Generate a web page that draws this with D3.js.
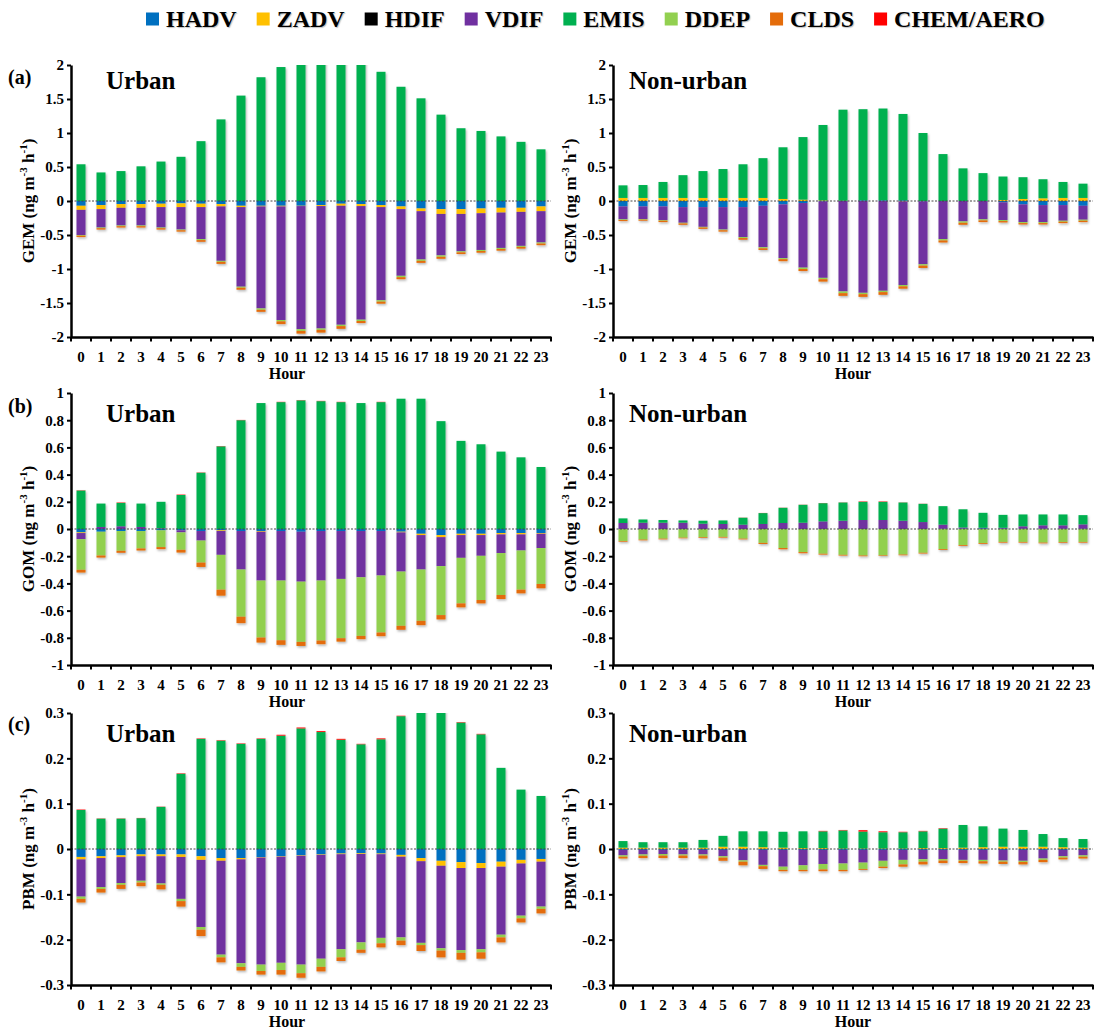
<!DOCTYPE html>
<html>
<head>
<meta charset="utf-8">
<script src="https://cdn.jsdelivr.net/npm/d3@7"></script>
<style>
  body { margin: 0; background: #fff; }
  svg text { font-family: "Liberation Serif", "Times New Roman", serif; font-weight: bold; fill: #000; }
</style>
</head>
<body>
<svg id="chart" width="1099" height="1032"></svg>
<script>
// categories and series
const hours = [0,1,2,3,4,5,6,7,8,9,10,11,12,13,14,15,16,17,18,19,20,21,22,23];
const seriesNames = ["HADV","ZADV","HDIF","VDIF","EMIS","DDEP","CLDS","CHEM/AERO"];
const seriesColors = ["#0070C0","#FFC000","#000000","#7030A0","#00B050","#92D050","#E46C0A","#FF0000"];

// y tick labels
const gemTicks = [-2,-1.5,-1,-0.5,0,0.5,1,1.5,2];
const gomTicks = [-1,-0.8,-0.6,-0.4,-0.2,0,0.2,0.4,0.6,0.8,1];
const pbmTicks = [-0.3,-0.2,-0.1,0,0.1,0.2,0.3];

// horizontal diffusion is nil everywhere
const hdifZero = [0,0,0,0,0,0,0,0,0,0,0,0,0,0,0,0,0,0,0,0,0,0,0,0];

// (a) GEM urban
const gemUrbanHADV = [-0.07,-0.06,-0.045,-0.045,-0.04,-0.035,-0.04,-0.045,-0.07,-0.07,-0.07,-0.07,-0.06,-0.04,-0.045,-0.06,-0.08,-0.11,-0.12,-0.12,-0.11,-0.10,-0.10,-0.08];
const gemUrbanZADV = [-0.06,-0.06,-0.055,-0.055,-0.05,-0.055,-0.05,-0.035,-0.02,-0.01,-0.01,-0.005,-0.015,-0.03,-0.03,-0.03,-0.04,-0.04,-0.07,-0.07,-0.07,-0.07,-0.06,-0.07];
const gemUrbanVDIF = [-0.37,-0.27,-0.26,-0.26,-0.30,-0.33,-0.47,-0.80,-1.17,-1.50,-1.67,-1.81,-1.80,-1.75,-1.67,-1.37,-0.98,-0.71,-0.61,-0.55,-0.54,-0.52,-0.50,-0.46];
const gemUrbanEMIS = [0.54,0.42,0.44,0.51,0.58,0.65,0.88,1.20,1.55,1.82,1.97,2.08,2.12,2.10,2.05,1.90,1.68,1.51,1.27,1.07,1.03,0.95,0.87,0.76];
const gemUrbanDDEP = [-0.01,-0.01,-0.01,-0.01,-0.01,-0.01,-0.015,-0.015,-0.015,-0.02,-0.02,-0.025,-0.02,-0.02,-0.02,-0.02,-0.02,-0.02,-0.02,-0.015,-0.015,-0.015,-0.015,-0.015];
const gemUrbanCLDS = [-0.02,-0.02,-0.02,-0.02,-0.02,-0.02,-0.025,-0.03,-0.03,-0.03,-0.04,-0.04,-0.04,-0.04,-0.03,-0.03,-0.03,-0.03,-0.03,-0.025,-0.025,-0.025,-0.025,-0.025];
const gemUrbanCHEM = [0,0,0,0,0,0,0,0,0,0,0,0,0,0,0,0,0,0,0,0,0,0,0,0];

// (a) GEM non-urban
const gemRuralHADV = [-0.08,-0.08,-0.08,-0.09,-0.09,-0.09,-0.09,-0.07,-0.05,-0.03,-0.005,0,0.01,0.01,0.01,-0.005,0,0,0,-0.02,-0.05,-0.06,-0.06,-0.07];
const gemRuralZADV = [0.045,0.045,0.045,0.045,0.045,0.045,0.045,0.045,0.03,0.02,0.008,0.003,0,0,-0.005,0,0,0,0,0.015,0.03,0.04,0.045,0.045];
const gemRuralVDIF = [-0.19,-0.185,-0.20,-0.23,-0.29,-0.33,-0.44,-0.61,-0.79,-0.95,-1.125,-1.33,-1.35,-1.32,-1.23,-0.925,-0.56,-0.30,-0.27,-0.26,-0.26,-0.25,-0.23,-0.205];
const gemRuralEMIS = [0.185,0.19,0.235,0.335,0.395,0.425,0.495,0.585,0.76,0.92,1.11,1.34,1.34,1.35,1.27,1.00,0.69,0.48,0.41,0.345,0.32,0.28,0.235,0.21];
const gemRuralDDEP = [-0.01,-0.01,-0.01,-0.01,-0.01,-0.01,-0.015,-0.015,-0.015,-0.02,-0.02,-0.025,-0.02,-0.02,-0.02,-0.02,-0.02,-0.02,-0.015,-0.015,-0.015,-0.015,-0.015,-0.015];
const gemRuralCLDS = [-0.015,-0.015,-0.02,-0.02,-0.02,-0.02,-0.025,-0.025,-0.03,-0.03,-0.035,-0.04,-0.04,-0.04,-0.035,-0.035,-0.03,-0.03,-0.025,-0.02,-0.02,-0.02,-0.02,-0.02];
const gemRuralCHEM = [0,0,0,0,0,0,0,0,0,0,0,0,0,0,0,0,0,0,0,0,0,0,0,0];

// (b) GOM urban
const gomUrbanHADV = [-0.025,-0.02,-0.015,-0.015,-0.01,-0.01,-0.015,-0.01,-0.015,-0.015,-0.015,-0.02,-0.015,-0.015,-0.015,-0.015,-0.02,-0.035,-0.045,-0.035,-0.035,-0.03,-0.03,-0.03];
const gomUrbanZADV = [-0.005,0,0,0,0,0,0,-0.005,0,-0.005,0,0,0,0,0,0,-0.005,-0.01,-0.015,-0.01,-0.01,-0.01,-0.01,-0.005];
const gomUrbanVDIF = [-0.045,0.015,0.02,0.015,0.005,-0.015,-0.07,-0.175,-0.283,-0.359,-0.364,-0.367,-0.364,-0.352,-0.34,-0.327,-0.288,-0.253,-0.213,-0.167,-0.152,-0.137,-0.118,-0.105];
const gomUrbanEMIS = [0.283,0.172,0.172,0.172,0.195,0.25,0.414,0.608,0.80,0.926,0.933,0.946,0.94,0.933,0.926,0.933,0.958,0.958,0.793,0.648,0.623,0.569,0.527,0.456];
const gomUrbanDDEP = [-0.225,-0.175,-0.145,-0.128,-0.123,-0.128,-0.162,-0.256,-0.347,-0.419,-0.439,-0.443,-0.441,-0.436,-0.431,-0.419,-0.399,-0.377,-0.36,-0.335,-0.325,-0.308,-0.288,-0.264];
const gomUrbanCLDS = [-0.02,-0.015,-0.015,-0.015,-0.015,-0.02,-0.032,-0.044,-0.047,-0.037,-0.034,-0.03,-0.027,-0.025,-0.024,-0.027,-0.029,-0.032,-0.032,-0.029,-0.025,-0.03,-0.027,-0.032];
const gomUrbanCHEM = [0.002,0,0.003,0,0,0.003,0.002,0.002,0.002,0,0.002,0.002,0.002,0.002,0,0.002,0,0,0,0,0,0,0,0];

// (b) GOM non-urban
const gomRuralHADV = [0,0,0,0,0,0,0,0,0,0,0,0,0,0,0,0,0.002,0.003,0.005,0.003,0.002,0.002,0.002,0.002];
const gomRuralZADV = [0,0,0,0,0,0,0,0,0,0,0,0,0,0,0,0,0,0,0,0,0,0,0,0];
const gomRuralVDIF = [0.044,0.046,0.046,0.046,0.039,0.037,0.032,0.037,0.044,0.046,0.056,0.061,0.066,0.066,0.061,0.051,0.030,0.008,0.004,0.006,0.018,0.025,0.025,0.032];
const gomRuralEMIS = [0.034,0.024,0.02,0.017,0.022,0.026,0.051,0.08,0.112,0.132,0.134,0.134,0.134,0.134,0.134,0.134,0.136,0.134,0.11,0.095,0.087,0.08,0.08,0.068];
const gomRuralDDEP = [-0.088,-0.078,-0.071,-0.064,-0.061,-0.058,-0.071,-0.102,-0.14,-0.17,-0.182,-0.19,-0.195,-0.194,-0.188,-0.175,-0.148,-0.118,-0.104,-0.095,-0.095,-0.10,-0.097,-0.095];
const gomRuralCLDS = [-0.005,-0.005,-0.005,-0.004,-0.005,-0.005,-0.005,-0.008,-0.009,-0.008,-0.006,-0.005,-0.005,-0.004,-0.005,-0.005,-0.006,-0.006,-0.006,-0.005,-0.005,-0.005,-0.005,-0.005];
const gomRuralCHEM = [0,0,0,0,0,0,0.001,0.001,0.001,0.001,0.001,0.001,0.003,0.003,0.001,0.001,0,0,0,0,0,0,0,0];

// (c) PBM urban
const pbmUrbanHADV = [-0.0175,-0.016,-0.014,-0.012,-0.012,-0.012,-0.016,-0.02,-0.02,-0.018,-0.016,-0.014,-0.012,-0.01,-0.0095,-0.01,-0.013,-0.02,-0.026,-0.029,-0.031,-0.028,-0.024,-0.022];
const pbmUrbanZADV = [-0.0055,-0.004,-0.004,-0.004,-0.004,-0.0055,-0.008,-0.006,-0.003,-0.001,-0.001,-0.001,-0.001,-0.0015,-0.0015,-0.0015,-0.004,-0.007,-0.011,-0.013,-0.011,-0.011,-0.008,-0.006];
const pbmUrbanVDIF = [-0.082,-0.064,-0.057,-0.054,-0.06,-0.0925,-0.148,-0.207,-0.229,-0.236,-0.234,-0.24,-0.229,-0.2095,-0.195,-0.1845,-0.178,-0.18,-0.182,-0.181,-0.179,-0.15,-0.115,-0.099];
const pbmUrbanEMIS = [0.086,0.067,0.067,0.068,0.093,0.166,0.243,0.239,0.232,0.243,0.25,0.266,0.258,0.241,0.231,0.242,0.293,0.31,0.305,0.279,0.253,0.179,0.131,0.117];
const pbmUrbanDDEP = [-0.005,-0.004,-0.004,-0.004,-0.003,-0.005,-0.006,-0.006,-0.008,-0.014,-0.016,-0.019,-0.018,-0.018,-0.016,-0.012,-0.007,-0.005,-0.005,-0.006,-0.007,-0.006,-0.006,-0.005];
const pbmUrbanCLDS = [-0.008,-0.008,-0.009,-0.008,-0.01,-0.012,-0.014,-0.011,-0.008,-0.008,-0.01,-0.01,-0.01,-0.008,-0.007,-0.009,-0.01,-0.013,-0.015,-0.015,-0.014,-0.011,-0.009,-0.01];
const pbmUrbanCHEM = [0.001,0.0005,0.0005,0.0005,0.0005,0.001,0.001,0.001,0.001,0.001,0.002,0.002,0.002,0.002,0.001,0.002,0.001,0,0,0.001,0.001,0,0,0];

// (c) PBM non-urban
const pbmRuralHADV = [-0.002,-0.002,-0.002,-0.002,-0.002,-0.002,-0.002,-0.002,-0.002,-0.002,-0.002,-0.002,-0.002,-0.002,-0.002,-0.002,-0.002,-0.002,-0.002,-0.002,-0.002,-0.002,-0.002,-0.002];
const pbmRuralZADV = [0.003,0.003,0.003,0.003,0.003,0.005,0.005,0.004,0.003,0.002,0.002,0.001,0.001,0.001,0.001,0.002,0.002,0.003,0.004,0.005,0.005,0.005,0.004,0.003];
const pbmRuralVDIF = [-0.012,-0.010,-0.009,-0.010,-0.010,-0.014,-0.023,-0.033,-0.037,-0.034,-0.031,-0.030,-0.028,-0.024,-0.022,-0.0205,-0.020,-0.022,-0.022,-0.0235,-0.024,-0.019,-0.014,-0.012];
const pbmRuralEMIS = [0.0145,0.012,0.012,0.012,0.017,0.024,0.034,0.035,0.035,0.037,0.037,0.040,0.0375,0.036,0.036,0.037,0.043,0.05,0.046,0.04,0.037,0.028,0.02,0.019];
const pbmRuralDDEP = [-0.003,-0.003,-0.0035,-0.0025,-0.0025,-0.003,-0.003,-0.003,-0.007,-0.010,-0.012,-0.014,-0.014,-0.013,-0.010,-0.0055,-0.0035,-0.002,-0.003,-0.0025,-0.0025,-0.003,-0.003,-0.003];
const pbmRuralCLDS = [-0.004,-0.005,-0.0055,-0.0055,-0.0065,-0.007,-0.008,-0.006,-0.003,-0.003,-0.004,-0.003,-0.002,-0.003,-0.005,-0.006,-0.0055,-0.005,-0.005,-0.005,-0.0055,-0.005,-0.004,-0.004];
const pbmRuralCHEM = [0,0,0,0,0,0,0,0,0,0,0.001,0.001,0.003,0.002,0.001,0.001,0.001,0,0,0,0,0,0,0];

const plotW = 480, plotH = 272;
const panels = [
  {tag: "(a)", site: "Urban", species: "GEM", ticks: gemTicks, left: 71, top: 65, tagBase: 19, siteBase: 24, hourShift: -24,
   rows: [gemUrbanHADV, gemUrbanZADV, hdifZero, gemUrbanVDIF, gemUrbanEMIS, gemUrbanDDEP, gemUrbanCLDS, gemUrbanCHEM]},
  {tag: null, site: "Non-urban", species: "GEM", ticks: gemTicks, left: 613, top: 65, siteBase: 24, hourShift: 0,
   rows: [gemRuralHADV, gemRuralZADV, hdifZero, gemRuralVDIF, gemRuralEMIS, gemRuralDDEP, gemRuralCLDS, gemRuralCHEM]},
  {tag: "(b)", site: "Urban", species: "GOM", ticks: gomTicks, left: 71, top: 393, tagBase: 20, siteBase: 29, hourShift: -24,
   rows: [gomUrbanHADV, gomUrbanZADV, hdifZero, gomUrbanVDIF, gomUrbanEMIS, gomUrbanDDEP, gomUrbanCLDS, gomUrbanCHEM]},
  {tag: null, site: "Non-urban", species: "GOM", ticks: gomTicks, left: 613, top: 393, siteBase: 29, hourShift: 0,
   rows: [gomRuralHADV, gomRuralZADV, hdifZero, gomRuralVDIF, gomRuralEMIS, gomRuralDDEP, gomRuralCLDS, gomRuralCHEM]},
  {tag: "(c)", site: "Urban", species: "PBM", ticks: pbmTicks, left: 71, top: 713, tagBase: 18, siteBase: 29, hourShift: -24,
   rows: [pbmUrbanHADV, pbmUrbanZADV, hdifZero, pbmUrbanVDIF, pbmUrbanEMIS, pbmUrbanDDEP, pbmUrbanCLDS, pbmUrbanCHEM]},
  {tag: null, site: "Non-urban", species: "PBM", ticks: pbmTicks, left: 613, top: 713, siteBase: 29, hourShift: 0,
   rows: [pbmRuralHADV, pbmRuralZADV, hdifZero, pbmRuralVDIF, pbmRuralEMIS, pbmRuralDDEP, pbmRuralCLDS, pbmRuralCHEM]}
];

const svg = d3.select("#chart");
const color = d3.scaleOrdinal().domain(seriesNames).range(seriesColors);

// soft Excel-like shadow under the columns
svg.append("defs").append("filter")
  .attr("id", "shadow").attr("x", "-30%").attr("y", "-10%").attr("width", "160%").attr("height", "120%")
  .append("feDropShadow")
  .attr("dx", 1).attr("dy", 1.5).attr("stdDeviation", 0.8)
  .attr("flood-color", "#000").attr("flood-opacity", 0.3);

// legend
let lx = 146;
const legend = svg.append("g").attr("class", "legend");
seriesNames.forEach(function(name) {
  legend.append("rect")
    .attr("x", lx).attr("y", 12.5).attr("width", 13).attr("height", 13)
    .attr("fill", color(name));
  let t = legend.append("text")
    .attr("x", lx + 20).attr("y", 27)
    .style("font-size", "24px")
    .style("text-shadow", "1px 1px 1px rgba(0,0,0,0.25)")
    .text(name);
  lx += 20 + t.node().getComputedTextLength() + 20;
});

panels.forEach(function(p, pi) {
  let table = hours.map(function(h, i) {
    let row = {hour: h};
    seriesNames.forEach((s, k) => { row[s] = p.rows[k][i]; });
    return row;
  });
  let stacked = d3.stack().keys(seriesNames).offset(d3.stackOffsetDiverging)(table);

  let x = d3.scaleBand().domain(hours).range([0, plotW]);
  let y = d3.scaleLinear().domain([p.ticks[0], p.ticks[p.ticks.length - 1]]).range([plotH, 0]);
  let barW = x.step() * 0.45;

  let g = svg.append("g").attr("transform", "translate(" + p.left + "," + p.top + ")");

  g.append("clipPath").attr("id", "clip" + pi)
    .append("rect").attr("x", -2).attr("y", 0).attr("width", plotW + 4).attr("height", plotH);

  let bars = g.append("g").attr("clip-path", "url(#clip" + pi + ")")
    .append("g").attr("filter", "url(#shadow)");

  bars.selectAll("g")
    .data(stacked)
    .enter()
    .append("g")
    .attr("fill", d => color(d.key))
    .selectAll("rect")
    .data(d => d)
    .enter()
    .append("rect")
    .attr("x", d => x(d.data.hour) + (x.step() - barW) / 2)
    .attr("width", barW)
    .attr("y", d => y(Math.max(d[0], d[1])))
    .attr("height", d => Math.abs(y(d[0]) - y(d[1])));

  // dotted zero line
  g.append("line")
    .attr("x1", 0).attr("x2", plotW)
    .attr("y1", y(0)).attr("y2", y(0))
    .attr("stroke", "#444").attr("stroke-width", 1).attr("stroke-dasharray", "2,1.5");

  // y axis
  let yAxis = g.append("g")
    .call(d3.axisLeft(y).tickValues(p.ticks).tickFormat(d => String(d)).tickSize(4).tickSizeOuter(0).tickPadding(3));
  yAxis.select(".domain").attr("stroke-width", 2.5);
  yAxis.selectAll(".tick line").attr("stroke-width", 2);
  yAxis.selectAll("text").style("font-size", "15px").attr("fill", "#000");

  // x axis with ticks on category boundaries
  let xAxis = g.append("g")
    .attr("transform", "translate(0," + plotH + ")")
    .call(d3.axisBottom(x).tickSize(0).tickPadding(14));
  xAxis.select(".domain").attr("stroke-width", 2.5);
  xAxis.selectAll("text").style("font-size", "15px").attr("fill", "#000");
  xAxis.selectAll("line.bound")
    .data(hours.map(h => x(h)).concat([x.range()[1]]))
    .enter()
    .append("line")
    .attr("class", "bound")
    .attr("x1", d => d).attr("x2", d => d)
    .attr("y1", 0).attr("y2", 4.5)
    .attr("stroke", "#000").attr("stroke-width", 2);

  g.append("text")
    .attr("x", plotW / 2 + p.hourShift).attr("y", plotH + 42)
    .attr("text-anchor", "middle")
    .style("font-size", "16px")
    .text("Hour");

  // y title with superscripts
  let yt = g.append("text")
    .attr("transform", "translate(-43," + (plotH / 2) + ") rotate(-90)")
    .attr("text-anchor", "middle")
    .attr("dy", "0.35em")
    .style("font-size", "17px");
  yt.append("tspan").text(p.species + " (ng m");
  yt.append("tspan").attr("dy", -7).style("font-size", "11px").text("-3");
  yt.append("tspan").attr("dy", 7).text(" h");
  yt.append("tspan").attr("dy", -7).style("font-size", "11px").text("-1");
  yt.append("tspan").attr("dy", 7).text(")");

  // panel labels
  g.append("text")
    .attr("x", p.left === 71 ? 35 : 16).attr("y", p.siteBase)
    .style("font-size", "25px")
    .text(p.site);
  if (p.tag) {
    g.append("text")
      .attr("x", 8 - p.left).attr("y", p.tagBase)
      .style("font-size", "20px")
      .text(p.tag);
  }
});
</script>
</body>
</html>
